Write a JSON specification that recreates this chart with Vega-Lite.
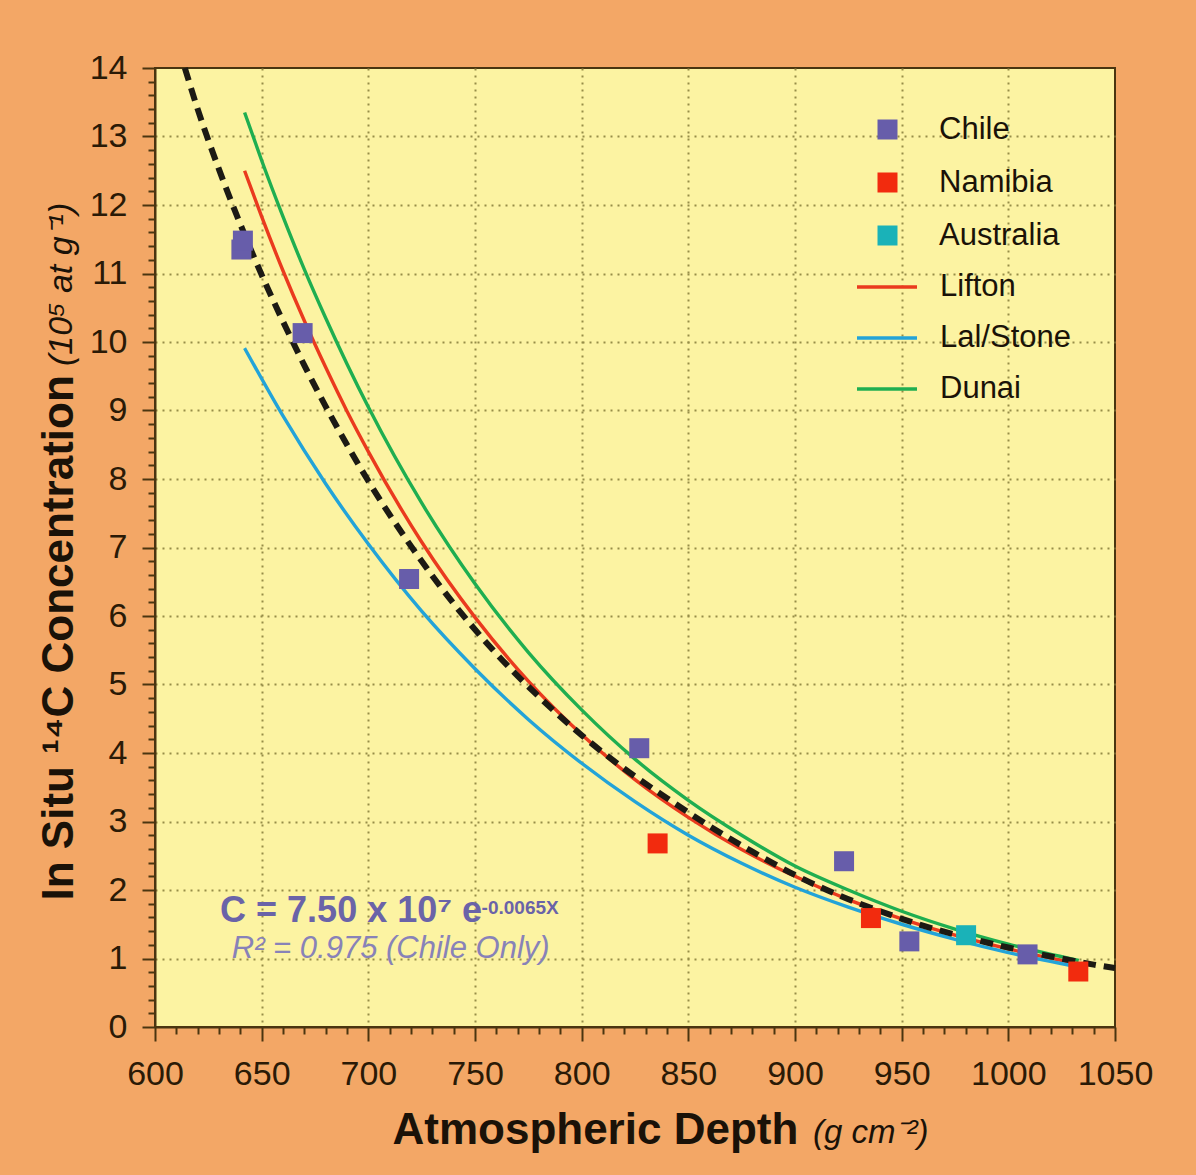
{
  "$schema": "https://vega.github.io/schema/vega-lite/v6.json",
  "width": 960,
  "height": 959,
  "autosize": {"type": "none"},
  "padding": {"left": 155, "top": 68, "right": 81, "bottom": 148},
  "background": "#F3A766",
  "config": {
    "font": "Liberation Sans",
    "view": {"fill": "#FCF3A2", "stroke": "#4a3510", "strokeWidth": 2},
    "axis": {
      "labelFlush": false, "labelOverlap": false, "labelBound": false,
      "labelFontSize": 34, "labelColor": "#2a1a06", "labelFont": "Liberation Sans",
      "tickWidth": 2, "tickColor": "#4a3510",
      "grid": true, "gridColor": "#968D48", "gridDash": [2, 5], "gridWidth": 2,
      "domainColor": "#4a3510", "domainWidth": 2,
      "titleFontSize": 44, "titleFontWeight": "bold", "titleColor": "#1a1208", "titleFont": "Liberation Sans"
    }
  },
  "datasets": {
    "models": [
      {"model": "Lifton", "x": 642, "y": 12.5},
      {"model": "Lifton", "x": 650, "y": 11.83},
      {"model": "Lifton", "x": 660, "y": 11.04},
      {"model": "Lifton", "x": 670, "y": 10.31},
      {"model": "Lifton", "x": 680, "y": 9.63},
      {"model": "Lifton", "x": 690, "y": 8.99},
      {"model": "Lifton", "x": 700, "y": 8.4},
      {"model": "Lifton", "x": 725, "y": 7.08},
      {"model": "Lifton", "x": 750, "y": 5.98},
      {"model": "Lifton", "x": 775, "y": 5.05},
      {"model": "Lifton", "x": 800, "y": 4.27},
      {"model": "Lifton", "x": 825, "y": 3.61},
      {"model": "Lifton", "x": 850, "y": 3.06},
      {"model": "Lifton", "x": 875, "y": 2.59},
      {"model": "Lifton", "x": 900, "y": 2.2},
      {"model": "Lifton", "x": 925, "y": 1.86},
      {"model": "Lifton", "x": 950, "y": 1.58},
      {"model": "Lifton", "x": 975, "y": 1.34},
      {"model": "Lifton", "x": 1000, "y": 1.14},
      {"model": "Lifton", "x": 1032, "y": 0.93},
      {"model": "Lal/Stone", "x": 642, "y": 9.91},
      {"model": "Lal/Stone", "x": 660, "y": 8.92},
      {"model": "Lal/Stone", "x": 680, "y": 7.93},
      {"model": "Lal/Stone", "x": 700, "y": 7.05},
      {"model": "Lal/Stone", "x": 725, "y": 6.07},
      {"model": "Lal/Stone", "x": 750, "y": 5.23},
      {"model": "Lal/Stone", "x": 775, "y": 4.49},
      {"model": "Lal/Stone", "x": 800, "y": 3.85},
      {"model": "Lal/Stone", "x": 825, "y": 3.29},
      {"model": "Lal/Stone", "x": 850, "y": 2.8},
      {"model": "Lal/Stone", "x": 875, "y": 2.39},
      {"model": "Lal/Stone", "x": 900, "y": 2.04},
      {"model": "Lal/Stone", "x": 925, "y": 1.75},
      {"model": "Lal/Stone", "x": 950, "y": 1.5},
      {"model": "Lal/Stone", "x": 975, "y": 1.28},
      {"model": "Lal/Stone", "x": 1000, "y": 1.086},
      {"model": "Lal/Stone", "x": 1032, "y": 0.88},
      {"model": "Dunai", "x": 642, "y": 13.35},
      {"model": "Dunai", "x": 650, "y": 12.65},
      {"model": "Dunai", "x": 660, "y": 11.83},
      {"model": "Dunai", "x": 670, "y": 11.06},
      {"model": "Dunai", "x": 680, "y": 10.35},
      {"model": "Dunai", "x": 690, "y": 9.68},
      {"model": "Dunai", "x": 700, "y": 9.05},
      {"model": "Dunai", "x": 725, "y": 7.65},
      {"model": "Dunai", "x": 750, "y": 6.47},
      {"model": "Dunai", "x": 775, "y": 5.47},
      {"model": "Dunai", "x": 800, "y": 4.63},
      {"model": "Dunai", "x": 825, "y": 3.91},
      {"model": "Dunai", "x": 850, "y": 3.31},
      {"model": "Dunai", "x": 875, "y": 2.8},
      {"model": "Dunai", "x": 900, "y": 2.35},
      {"model": "Dunai", "x": 925, "y": 2.0},
      {"model": "Dunai", "x": 950, "y": 1.69},
      {"model": "Dunai", "x": 975, "y": 1.43},
      {"model": "Dunai", "x": 1000, "y": 1.21},
      {"model": "Dunai", "x": 1033, "y": 0.97}
    ],
    "fit": [
      {"x": 614, "y": 14.0},
      {"x": 620, "y": 13.4},
      {"x": 630, "y": 12.52},
      {"x": 640, "y": 11.72},
      {"x": 650, "y": 10.98},
      {"x": 660, "y": 10.3},
      {"x": 670, "y": 9.66},
      {"x": 680, "y": 9.06},
      {"x": 690, "y": 8.5},
      {"x": 700, "y": 7.97},
      {"x": 720, "y": 7.02},
      {"x": 740, "y": 6.18},
      {"x": 760, "y": 5.45},
      {"x": 780, "y": 4.82},
      {"x": 800, "y": 4.26},
      {"x": 820, "y": 3.77},
      {"x": 840, "y": 3.34},
      {"x": 860, "y": 2.93},
      {"x": 880, "y": 2.56},
      {"x": 900, "y": 2.22},
      {"x": 920, "y": 1.93},
      {"x": 940, "y": 1.69},
      {"x": 960, "y": 1.48},
      {"x": 980, "y": 1.31},
      {"x": 1000, "y": 1.16},
      {"x": 1020, "y": 1.03},
      {"x": 1040, "y": 0.91},
      {"x": 1050, "y": 0.86}
    ],
    "points": [
      {"site": "Chile", "x": 640.5, "y": 11.35},
      {"site": "Chile", "x": 641.2, "y": 11.48},
      {"site": "Chile", "x": 669.2, "y": 10.13},
      {"site": "Chile", "x": 719.1, "y": 6.54},
      {"site": "Chile", "x": 827, "y": 4.07},
      {"site": "Chile", "x": 923, "y": 2.42},
      {"site": "Chile", "x": 953.6, "y": 1.25},
      {"site": "Chile", "x": 1009, "y": 1.06},
      {"site": "Namibia", "x": 835.6, "y": 2.68},
      {"site": "Namibia", "x": 935.6, "y": 1.59},
      {"site": "Namibia", "x": 1032.8, "y": 0.81},
      {"site": "Australia", "x": 980.2, "y": 1.34}
    ]
  },
  "layer": [
    {
      "data": {"name": "models"},
      "mark": {"type": "line", "strokeWidth": 3.4, "interpolate": "monotone"},
      "encoding": {
        "x": {
          "field": "x", "type": "quantitative",
          "scale": {"domain": [600, 1050], "nice": false, "zero": false},
          "axis": {"values": [600,610,620,630,640,650,660,670,680,690,700,710,720,730,740,750,760,770,780,790,800,810,820,830,840,850,860,870,880,890,900,910,920,930,940,950,960,970,980,990,1000,1010,1020,1030,1040,1050], "labelExpr": "datum.value % 50 === 0 ? format(datum.value, 'd') : ''", "labelPadding": 16, "tickSize": 14, "tickDash": {"condition": {"test": "datum.value % 50 === 0", "value": [30, 1]}, "value": [7, 100]}, "gridOpacity": {"condition": {"test": "datum.value % 50 === 0 && datum.value > 600 && datum.value < 1050", "value": 1}, "value": 0}, "title": "Atmospheric Depth", "titleX": 237, "titleY": 116, "titleAlign": "left", "titleBaseline": "alphabetic", "titleAnchor": "start"}
        },
        "y": {
          "field": "y", "type": "quantitative",
          "scale": {"domain": [0, 14], "nice": false},
          "axis": {"values": [0,0.2,0.4,0.6,0.8,1,1.2,1.4,1.6,1.8,2,2.2,2.4,2.6,2.8,3,3.2,3.4,3.6,3.8,4,4.2,4.4,4.6,4.8,5,5.2,5.4,5.6,5.8,6,6.2,6.4,6.6,6.8,7,7.2,7.4,7.6,7.8,8,8.2,8.4,8.6,8.8,9,9.2,9.4,9.6,9.8,10,10.2,10.4,10.6,10.8,11,11.2,11.4,11.6,11.8,12,12.2,12.4,12.6,12.8,13,13.2,13.4,13.6,13.8,14], "labelExpr": "abs(datum.value - round(datum.value)) < 0.001 ? format(round(datum.value), 'd') : ''", "labelPadding": 15, "tickSize": 13, "tickDash": {"condition": {"test": "abs(datum.value - round(datum.value)) < 0.001", "value": [30, 1]}, "value": [7, 100]}, "gridOpacity": {"condition": {"test": "abs(datum.value - round(datum.value)) < 0.001 && datum.value > 0.5 && datum.value < 13.5", "value": 1}, "value": 0}, "title": "In Situ ¹⁴C Concentration", "titleX": -83, "titleY": 832, "titleAlign": "left", "titleBaseline": "alphabetic", "titleAngle": 270}
        },
        "stroke": {
          "field": "model", "type": "nominal",
          "scale": {"domain": ["Lifton", "Lal/Stone", "Dunai"], "range": ["#EA3A1E", "#23A3D8", "#1FAE50"]},
          "legend": {
            "orient": "none", "legendX": 700, "legendY": 187, "title": null, "padding": 0,
            "symbolType": "stroke", "symbolSize": 3600, "symbolStrokeWidth": 3.5,
            "labelFontSize": 31, "labelFont": "Liberation Sans", "labelColor": "#1a1208",
            "labelOffset": 21, "rowPadding": 4
          }
        }
      }
    },
    {
      "data": {"name": "fit"},
      "mark": {"type": "line", "stroke": "#1c1a14", "strokeWidth": 6, "strokeDash": [13, 8], "interpolate": "monotone"},
      "encoding": {
        "x": {"field": "x", "type": "quantitative",
          "axis": {"values": [600,610,620,630,640,650,660,670,680,690,700,710,720,730,740,750,760,770,780,790,800,810,820,830,840,850,860,870,880,890,900,910,920,930,940,950,960,970,980,990,1000,1010,1020,1030,1040,1050], "labelExpr": "datum.value % 50 === 0 ? format(datum.value, 'd') : ''", "labelPadding": 16, "tickSize": 14, "tickDash": {"condition": {"test": "datum.value % 50 === 0", "value": [30, 1]}, "value": [7, 100]}, "gridOpacity": {"condition": {"test": "datum.value % 50 === 0 && datum.value > 600 && datum.value < 1050", "value": 1}, "value": 0}, "title": "Atmospheric Depth", "titleX": 237, "titleY": 116, "titleAlign": "left", "titleBaseline": "alphabetic", "titleAnchor": "start"}},
        "y": {"field": "y", "type": "quantitative",
          "axis": {"values": [0,0.2,0.4,0.6,0.8,1,1.2,1.4,1.6,1.8,2,2.2,2.4,2.6,2.8,3,3.2,3.4,3.6,3.8,4,4.2,4.4,4.6,4.8,5,5.2,5.4,5.6,5.8,6,6.2,6.4,6.6,6.8,7,7.2,7.4,7.6,7.8,8,8.2,8.4,8.6,8.8,9,9.2,9.4,9.6,9.8,10,10.2,10.4,10.6,10.8,11,11.2,11.4,11.6,11.8,12,12.2,12.4,12.6,12.8,13,13.2,13.4,13.6,13.8,14], "labelExpr": "abs(datum.value - round(datum.value)) < 0.001 ? format(round(datum.value), 'd') : ''", "labelPadding": 15, "tickSize": 13, "tickDash": {"condition": {"test": "abs(datum.value - round(datum.value)) < 0.001", "value": [30, 1]}, "value": [7, 100]}, "gridOpacity": {"condition": {"test": "abs(datum.value - round(datum.value)) < 0.001 && datum.value > 0.5 && datum.value < 13.5", "value": 1}, "value": 0}, "title": "In Situ ¹⁴C Concentration", "titleX": -83, "titleY": 832, "titleAlign": "left", "titleBaseline": "alphabetic", "titleAngle": 270}}
      }
    },
    {
      "data": {"name": "points"},
      "mark": {"type": "point", "shape": "square", "filled": true, "size": 400, "opacity": 1},
      "encoding": {
        "x": {"field": "x", "type": "quantitative",
          "axis": {"values": [600,610,620,630,640,650,660,670,680,690,700,710,720,730,740,750,760,770,780,790,800,810,820,830,840,850,860,870,880,890,900,910,920,930,940,950,960,970,980,990,1000,1010,1020,1030,1040,1050], "labelExpr": "datum.value % 50 === 0 ? format(datum.value, 'd') : ''", "labelPadding": 16, "tickSize": 14, "tickDash": {"condition": {"test": "datum.value % 50 === 0", "value": [30, 1]}, "value": [7, 100]}, "gridOpacity": {"condition": {"test": "datum.value % 50 === 0 && datum.value > 600 && datum.value < 1050", "value": 1}, "value": 0}, "title": "Atmospheric Depth", "titleX": 237, "titleY": 116, "titleAlign": "left", "titleBaseline": "alphabetic", "titleAnchor": "start"}},
        "y": {"field": "y", "type": "quantitative",
          "axis": {"values": [0,0.2,0.4,0.6,0.8,1,1.2,1.4,1.6,1.8,2,2.2,2.4,2.6,2.8,3,3.2,3.4,3.6,3.8,4,4.2,4.4,4.6,4.8,5,5.2,5.4,5.6,5.8,6,6.2,6.4,6.6,6.8,7,7.2,7.4,7.6,7.8,8,8.2,8.4,8.6,8.8,9,9.2,9.4,9.6,9.8,10,10.2,10.4,10.6,10.8,11,11.2,11.4,11.6,11.8,12,12.2,12.4,12.6,12.8,13,13.2,13.4,13.6,13.8,14], "labelExpr": "abs(datum.value - round(datum.value)) < 0.001 ? format(round(datum.value), 'd') : ''", "labelPadding": 15, "tickSize": 13, "tickDash": {"condition": {"test": "abs(datum.value - round(datum.value)) < 0.001", "value": [30, 1]}, "value": [7, 100]}, "gridOpacity": {"condition": {"test": "abs(datum.value - round(datum.value)) < 0.001 && datum.value > 0.5 && datum.value < 13.5", "value": 1}, "value": 0}, "title": "In Situ ¹⁴C Concentration", "titleX": -83, "titleY": 832, "titleAlign": "left", "titleBaseline": "alphabetic", "titleAngle": 270}},
        "fill": {
          "field": "site", "type": "nominal",
          "scale": {"domain": ["Chile", "Namibia", "Australia"], "range": ["#675DAA", "#F22B0E", "#1AB2B8"]},
          "legend": {
            "orient": "none", "legendX": 717, "legendY": 46, "title": null, "padding": 0,
            "symbolType": "square", "symbolSize": 400, "symbolOpacity": 1, "symbolStrokeWidth": 0,
            "labelFontSize": 31, "labelFont": "Liberation Sans", "labelColor": "#1a1208",
            "labelOffset": 36, "rowPadding": 21
          }
        }
      }
    },
    {
      "data": {"values": [{"t": "C = 7.50 x 10⁷ e"}]},
      "mark": {"type": "text", "align": "left", "baseline": "alphabetic", "fontSize": 36, "fontWeight": "bold", "color": "#6A63A8", "font": "Liberation Sans"},
      "encoding": {"x": {"datum": 630.5, "axis": {"values": [600,610,620,630,640,650,660,670,680,690,700,710,720,730,740,750,760,770,780,790,800,810,820,830,840,850,860,870,880,890,900,910,920,930,940,950,960,970,980,990,1000,1010,1020,1030,1040,1050], "labelExpr": "datum.value % 50 === 0 ? format(datum.value, 'd') : ''", "labelPadding": 16, "tickSize": 14, "tickDash": {"condition": {"test": "datum.value % 50 === 0", "value": [30, 1]}, "value": [7, 100]}, "gridOpacity": {"condition": {"test": "datum.value % 50 === 0 && datum.value > 600 && datum.value < 1050", "value": 1}, "value": 0}, "title": "Atmospheric Depth", "titleX": 237, "titleY": 116, "titleAlign": "left", "titleBaseline": "alphabetic", "titleAnchor": "start"}}, "y": {"datum": 1.537, "axis": {"values": [0,0.2,0.4,0.6,0.8,1,1.2,1.4,1.6,1.8,2,2.2,2.4,2.6,2.8,3,3.2,3.4,3.6,3.8,4,4.2,4.4,4.6,4.8,5,5.2,5.4,5.6,5.8,6,6.2,6.4,6.6,6.8,7,7.2,7.4,7.6,7.8,8,8.2,8.4,8.6,8.8,9,9.2,9.4,9.6,9.8,10,10.2,10.4,10.6,10.8,11,11.2,11.4,11.6,11.8,12,12.2,12.4,12.6,12.8,13,13.2,13.4,13.6,13.8,14], "labelExpr": "abs(datum.value - round(datum.value)) < 0.001 ? format(round(datum.value), 'd') : ''", "labelPadding": 15, "tickSize": 13, "tickDash": {"condition": {"test": "abs(datum.value - round(datum.value)) < 0.001", "value": [30, 1]}, "value": [7, 100]}, "gridOpacity": {"condition": {"test": "abs(datum.value - round(datum.value)) < 0.001 && datum.value > 0.5 && datum.value < 13.5", "value": 1}, "value": 0}, "title": "In Situ ¹⁴C Concentration", "titleX": -83, "titleY": 832, "titleAlign": "left", "titleBaseline": "alphabetic", "titleAngle": 270}}, "text": {"field": "t"}}
    },
    {
      "data": {"values": [{"t": "-0.0065X"}]},
      "mark": {"type": "text", "align": "left", "baseline": "alphabetic", "fontSize": 19, "fontWeight": "bold", "color": "#6A63A8", "font": "Liberation Sans"},
      "encoding": {"x": {"datum": 753.1, "axis": {"values": [600,610,620,630,640,650,660,670,680,690,700,710,720,730,740,750,760,770,780,790,800,810,820,830,840,850,860,870,880,890,900,910,920,930,940,950,960,970,980,990,1000,1010,1020,1030,1040,1050], "labelExpr": "datum.value % 50 === 0 ? format(datum.value, 'd') : ''", "labelPadding": 16, "tickSize": 14, "tickDash": {"condition": {"test": "datum.value % 50 === 0", "value": [30, 1]}, "value": [7, 100]}, "gridOpacity": {"condition": {"test": "datum.value % 50 === 0 && datum.value > 600 && datum.value < 1050", "value": 1}, "value": 0}, "title": "Atmospheric Depth", "titleX": 237, "titleY": 116, "titleAlign": "left", "titleBaseline": "alphabetic", "titleAnchor": "start"}}, "y": {"datum": 1.65, "axis": {"values": [0,0.2,0.4,0.6,0.8,1,1.2,1.4,1.6,1.8,2,2.2,2.4,2.6,2.8,3,3.2,3.4,3.6,3.8,4,4.2,4.4,4.6,4.8,5,5.2,5.4,5.6,5.8,6,6.2,6.4,6.6,6.8,7,7.2,7.4,7.6,7.8,8,8.2,8.4,8.6,8.8,9,9.2,9.4,9.6,9.8,10,10.2,10.4,10.6,10.8,11,11.2,11.4,11.6,11.8,12,12.2,12.4,12.6,12.8,13,13.2,13.4,13.6,13.8,14], "labelExpr": "abs(datum.value - round(datum.value)) < 0.001 ? format(round(datum.value), 'd') : ''", "labelPadding": 15, "tickSize": 13, "tickDash": {"condition": {"test": "abs(datum.value - round(datum.value)) < 0.001", "value": [30, 1]}, "value": [7, 100]}, "gridOpacity": {"condition": {"test": "abs(datum.value - round(datum.value)) < 0.001 && datum.value > 0.5 && datum.value < 13.5", "value": 1}, "value": 0}, "title": "In Situ ¹⁴C Concentration", "titleX": -83, "titleY": 832, "titleAlign": "left", "titleBaseline": "alphabetic", "titleAngle": 270}}, "text": {"field": "t"}}
    },
    {
      "data": {"values": [{"t": "R² = 0.975 (Chile Only)"}]},
      "mark": {"type": "text", "align": "left", "baseline": "alphabetic", "fontSize": 31, "fontStyle": "italic", "color": "#8882B8", "font": "Liberation Sans"},
      "encoding": {"x": {"datum": 636.0, "axis": {"values": [600,610,620,630,640,650,660,670,680,690,700,710,720,730,740,750,760,770,780,790,800,810,820,830,840,850,860,870,880,890,900,910,920,930,940,950,960,970,980,990,1000,1010,1020,1030,1040,1050], "labelExpr": "datum.value % 50 === 0 ? format(datum.value, 'd') : ''", "labelPadding": 16, "tickSize": 14, "tickDash": {"condition": {"test": "datum.value % 50 === 0", "value": [30, 1]}, "value": [7, 100]}, "gridOpacity": {"condition": {"test": "datum.value % 50 === 0 && datum.value > 600 && datum.value < 1050", "value": 1}, "value": 0}, "title": "Atmospheric Depth", "titleX": 237, "titleY": 116, "titleAlign": "left", "titleBaseline": "alphabetic", "titleAnchor": "start"}}, "y": {"datum": 1.007, "axis": {"values": [0,0.2,0.4,0.6,0.8,1,1.2,1.4,1.6,1.8,2,2.2,2.4,2.6,2.8,3,3.2,3.4,3.6,3.8,4,4.2,4.4,4.6,4.8,5,5.2,5.4,5.6,5.8,6,6.2,6.4,6.6,6.8,7,7.2,7.4,7.6,7.8,8,8.2,8.4,8.6,8.8,9,9.2,9.4,9.6,9.8,10,10.2,10.4,10.6,10.8,11,11.2,11.4,11.6,11.8,12,12.2,12.4,12.6,12.8,13,13.2,13.4,13.6,13.8,14], "labelExpr": "abs(datum.value - round(datum.value)) < 0.001 ? format(round(datum.value), 'd') : ''", "labelPadding": 15, "tickSize": 13, "tickDash": {"condition": {"test": "abs(datum.value - round(datum.value)) < 0.001", "value": [30, 1]}, "value": [7, 100]}, "gridOpacity": {"condition": {"test": "abs(datum.value - round(datum.value)) < 0.001 && datum.value > 0.5 && datum.value < 13.5", "value": 1}, "value": 0}, "title": "In Situ ¹⁴C Concentration", "titleX": -83, "titleY": 832, "titleAlign": "left", "titleBaseline": "alphabetic", "titleAngle": 270}}, "text": {"field": "t"}}
    },
    {
      "data": {"values": [{"t": "(g cm⁻²)"}]},
      "mark": {"type": "text", "align": "left", "baseline": "alphabetic", "fontSize": 33, "fontStyle": "italic", "color": "#1a1208", "font": "Liberation Sans"},
      "encoding": {"x": {"datum": 908.4, "axis": {"values": [600,610,620,630,640,650,660,670,680,690,700,710,720,730,740,750,760,770,780,790,800,810,820,830,840,850,860,870,880,890,900,910,920,930,940,950,960,970,980,990,1000,1010,1020,1030,1040,1050], "labelExpr": "datum.value % 50 === 0 ? format(datum.value, 'd') : ''", "labelPadding": 16, "tickSize": 14, "tickDash": {"condition": {"test": "datum.value % 50 === 0", "value": [30, 1]}, "value": [7, 100]}, "gridOpacity": {"condition": {"test": "datum.value % 50 === 0 && datum.value > 600 && datum.value < 1050", "value": 1}, "value": 0}, "title": "Atmospheric Depth", "titleX": 237, "titleY": 116, "titleAlign": "left", "titleBaseline": "alphabetic", "titleAnchor": "start"}}, "y": {"datum": -1.693, "axis": {"values": [0,0.2,0.4,0.6,0.8,1,1.2,1.4,1.6,1.8,2,2.2,2.4,2.6,2.8,3,3.2,3.4,3.6,3.8,4,4.2,4.4,4.6,4.8,5,5.2,5.4,5.6,5.8,6,6.2,6.4,6.6,6.8,7,7.2,7.4,7.6,7.8,8,8.2,8.4,8.6,8.8,9,9.2,9.4,9.6,9.8,10,10.2,10.4,10.6,10.8,11,11.2,11.4,11.6,11.8,12,12.2,12.4,12.6,12.8,13,13.2,13.4,13.6,13.8,14], "labelExpr": "abs(datum.value - round(datum.value)) < 0.001 ? format(round(datum.value), 'd') : ''", "labelPadding": 15, "tickSize": 13, "tickDash": {"condition": {"test": "abs(datum.value - round(datum.value)) < 0.001", "value": [30, 1]}, "value": [7, 100]}, "gridOpacity": {"condition": {"test": "abs(datum.value - round(datum.value)) < 0.001 && datum.value > 0.5 && datum.value < 13.5", "value": 1}, "value": 0}, "title": "In Situ ¹⁴C Concentration", "titleX": -83, "titleY": 832, "titleAlign": "left", "titleBaseline": "alphabetic", "titleAngle": 270}}, "text": {"field": "t"}}
    },
    {
      "data": {"values": [{"t": "(10⁵ at g⁻¹)"}]},
      "mark": {"type": "text", "align": "left", "baseline": "alphabetic", "angle": 270, "fontSize": 34, "fontStyle": "italic", "color": "#1a1208", "font": "Liberation Sans"},
      "encoding": {"x": {"datum": 561.1, "axis": {"values": [600,610,620,630,640,650,660,670,680,690,700,710,720,730,740,750,760,770,780,790,800,810,820,830,840,850,860,870,880,890,900,910,920,930,940,950,960,970,980,990,1000,1010,1020,1030,1040,1050], "labelExpr": "datum.value % 50 === 0 ? format(datum.value, 'd') : ''", "labelPadding": 16, "tickSize": 14, "tickDash": {"condition": {"test": "datum.value % 50 === 0", "value": [30, 1]}, "value": [7, 100]}, "gridOpacity": {"condition": {"test": "datum.value % 50 === 0 && datum.value > 600 && datum.value < 1050", "value": 1}, "value": 0}, "title": "Atmospheric Depth", "titleX": 237, "titleY": 116, "titleAlign": "left", "titleBaseline": "alphabetic", "titleAnchor": "start"}}, "y": {"datum": 9.65, "axis": {"values": [0,0.2,0.4,0.6,0.8,1,1.2,1.4,1.6,1.8,2,2.2,2.4,2.6,2.8,3,3.2,3.4,3.6,3.8,4,4.2,4.4,4.6,4.8,5,5.2,5.4,5.6,5.8,6,6.2,6.4,6.6,6.8,7,7.2,7.4,7.6,7.8,8,8.2,8.4,8.6,8.8,9,9.2,9.4,9.6,9.8,10,10.2,10.4,10.6,10.8,11,11.2,11.4,11.6,11.8,12,12.2,12.4,12.6,12.8,13,13.2,13.4,13.6,13.8,14], "labelExpr": "abs(datum.value - round(datum.value)) < 0.001 ? format(round(datum.value), 'd') : ''", "labelPadding": 15, "tickSize": 13, "tickDash": {"condition": {"test": "abs(datum.value - round(datum.value)) < 0.001", "value": [30, 1]}, "value": [7, 100]}, "gridOpacity": {"condition": {"test": "abs(datum.value - round(datum.value)) < 0.001 && datum.value > 0.5 && datum.value < 13.5", "value": 1}, "value": 0}, "title": "In Situ ¹⁴C Concentration", "titleX": -83, "titleY": 832, "titleAlign": "left", "titleBaseline": "alphabetic", "titleAngle": 270}}, "text": {"field": "t"}}
    }
  ]
}
